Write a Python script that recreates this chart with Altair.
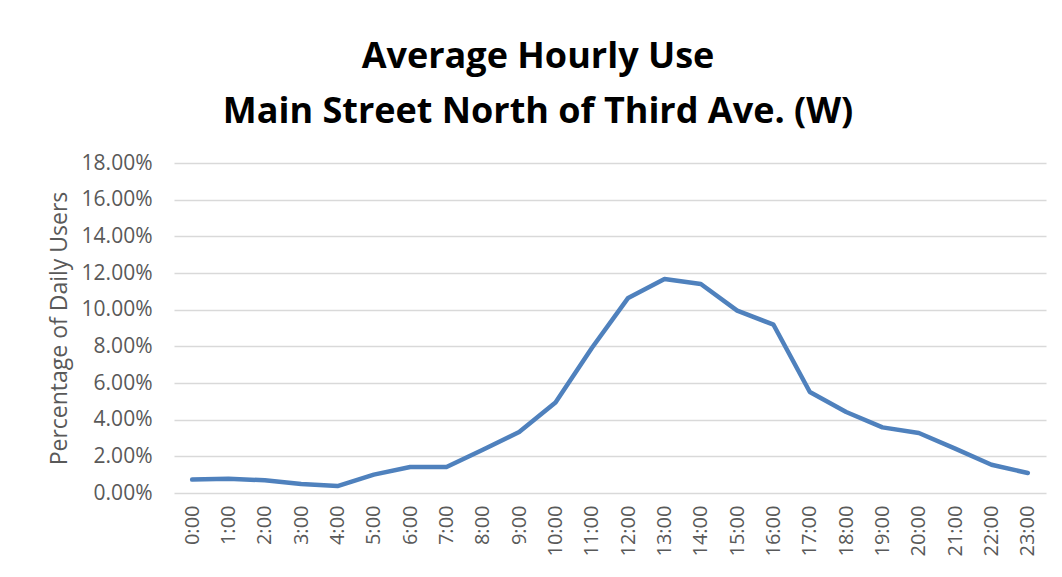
import altair as alt
import pandas as pd

hours = [f"{h}:00" for h in range(24)]
pct_users = [0.73, 0.78, 0.69, 0.49, 0.38, 1.00, 1.42, 1.42, 2.36, 3.33,
             4.94, 7.91, 10.64, 11.67, 11.40, 9.95, 9.18, 5.51, 4.42, 3.58,
             3.27, 2.42, 1.54, 1.09]
y_ticks = [0, 0.02, 0.04, 0.06, 0.08, 0.10, 0.12, 0.14, 0.16, 0.18]

df = pd.DataFrame({"hour": hours, "share": [v / 100 for v in pct_users]})

FONT = "Open Sans"
GRAY = "#595959"

line = alt.Chart(df).mark_line(color="#4F81BD", strokeWidth=4.5, strokeCap="round", strokeJoin="round").encode(
    x=alt.X("hour:N", sort=hours,
            scale=alt.Scale(type="point", padding=0.5),
            axis=alt.Axis(title=None, labelAngle=-90, labelFontSize=20, labelColor=GRAY,
                          labelFont=FONT, labelPadding=12, ticks=False, domain=False, grid=False)),
    y=alt.Y("share:Q",
            scale=alt.Scale(domain=[0, 0.18], nice=False),
            axis=alt.Axis(title="Percentage of Daily Users", format=".2%", values=y_ticks,
                          labelFontSize=21, labelColor=GRAY, labelFont=FONT, labelPadding=22,
                          titleFont=FONT, titleFontSize=23, titleFontWeight="normal", titleColor=GRAY,
                          titlePadding=10, ticks=False, domain=False,
                          gridColor="#D9D9D9", gridWidth=1.5)),
)

chart = line.properties(
    width=872,
    height=330,
    autosize=alt.AutoSizeParams(type="none"),
    padding={"left": 166, "top": 155, "right": 8, "bottom": 76},
    title=alt.TitleParams(
        text=["Average Hourly Use", "Main Street North of Third Ave. (W)"],
        font=FONT, fontSize=36, fontWeight="bold", color="#000000",
        anchor="middle", frame="group", dx=-72, offset=21, lineHeight=55,
    ),
).configure(background="white").configure_view(stroke="transparent", strokeWidth=0)

chart.save("out.html", embed_options={"renderer": "svg", "actions": False})
